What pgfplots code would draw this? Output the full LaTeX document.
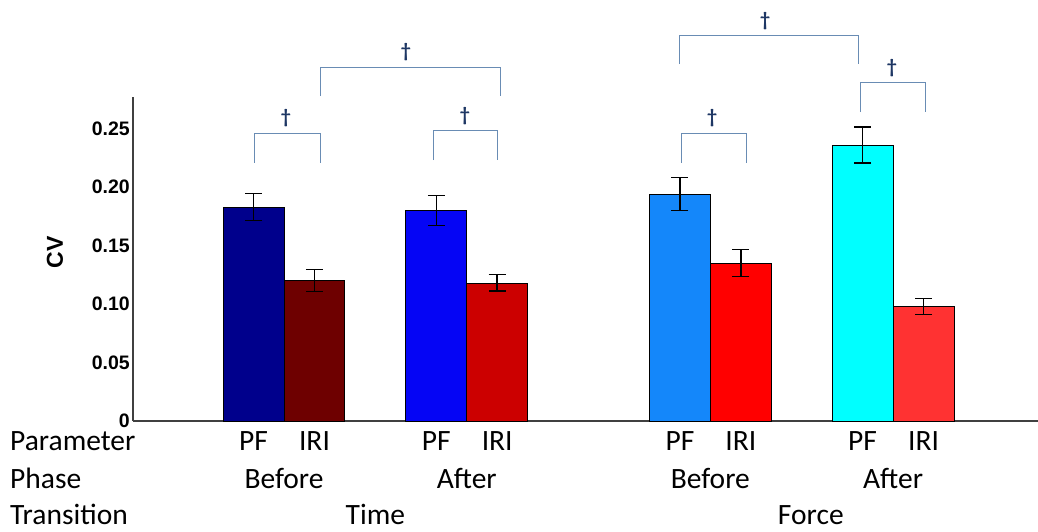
\documentclass[border=0pt]{standalone}
\usepackage{fontspec}
\setmainfont{Carlito}
\newfontfamily\arialfont{Liberation Sans}
\usepackage{pgfplots}
\pgfplotsset{compat=1.18}
\definecolor{c1}{RGB}{0,0,140}
\definecolor{c2}{RGB}{110,0,0}
\definecolor{c3}{RGB}{5,5,245}
\definecolor{c4}{RGB}{204,0,0}
\definecolor{c5}{RGB}{20,135,250}
\definecolor{c6}{RGB}{255,0,0}
\definecolor{c7}{RGB}{0,255,255}
\definecolor{c8}{RGB}{255,50,50}
\definecolor{brcol}{RGB}{105,140,180}
\definecolor{dagcol}{RGB}{30,55,100}
\newcommand\brk[4]{\draw[brcol, line width=1pt] (axis cs:#1,#4) |- (axis cs:#2,#3) -- (axis cs:#2,#4);}
\newcommand\sigdag[2]{\node[text=dagcol, font=\bfseries\fontsize{20}{20}\selectfont, inner sep=0pt] at (axis cs:#1,#2) {\textdagger};}
\newcommand\lab[3]{\node[anchor=base, font=\fontsize{29.5}{29.5}\selectfont, inner sep=0pt] at (axis cs:#1,#2) {#3};}
\begin{document}
\begin{tikzpicture}
\useasboundingbox (0,0) rectangle (1038pt,531pt);
\begin{axis}[
  at={(133pt,110pt)}, anchor=south west,
  scale only axis, width=905pt, height=324pt,
  xmin=-1.98, xmax=12.88, ymin=0, ymax=0.277,
  axis x line*=bottom, axis y line*=left,
  axis line style={-, draw=black!75, line width=1.3pt},
  xtick=\empty,
  ytick={0,0.05,0.1,0.15,0.2,0.25},
  yticklabels={0,0.05,0.10,0.15,0.20,0.25},
  major tick length=0pt,
  /pgf/number format/assume math mode=true,
  yticklabel style={font=\arialfont\bfseries\fontsize{19.5}{19.5}\selectfont, inner xsep=3pt},
  clip=false,
  mybar/.style={ybar, bar width=1, bar shift=0pt, draw=black, line width=0.9pt,
    error bars/y dir=both, error bars/y explicit,
    error bars/error bar style={line width=1.4pt, black},
    error bars/error mark options={rotate=90, mark size=8.5pt, line width=1.4pt, black}},
]
\addplot[mybar, fill=c1] coordinates {(0,0.183) +- (0,0.0115)};
\addplot[mybar, fill=c2] coordinates {(1,0.120) +- (0,0.0095)};
\addplot[mybar, fill=c3] coordinates {(3,0.180) +- (0,0.013)};
\addplot[mybar, fill=c4] coordinates {(4,0.118) +- (0,0.007)};
\addplot[mybar, fill=c5] coordinates {(7,0.194) +- (0,0.014)};
\addplot[mybar, fill=c6] coordinates {(8,0.135) +- (0,0.0115)};
\addplot[mybar, fill=c7] coordinates {(10,0.236) +- (0,0.0155)};
\addplot[mybar, fill=c8] coordinates {(11,0.098) +- (0,0.0068)};
% significance brackets
\brk{0.02}{1.1}{0.246}{0.221}
\brk{1.1}{4.05}{0.3026}{0.2778}
\brk{2.95}{4.0}{0.248}{0.223}
\brk{7.0}{9.94}{0.330}{0.305}
\brk{9.96}{11.03}{0.289}{0.264}
\brk{7.02}{8.09}{0.246}{0.221}
\sigdag{0.53}{0.259}
\sigdag{2.50}{0.315}
\sigdag{3.47}{0.261}
\sigdag{8.40}{0.342}
\sigdag{10.48}{0.302}
\sigdag{7.53}{0.259}
% y label
\node[rotate=90, font=\arialfont\bfseries\fontsize{23}{23}\selectfont] at (axis cs:-3.26,0.1444) {CV};
% category rows
\lab{0}{-0.0248}{PF}\lab{1}{-0.0248}{IRI}
\lab{3}{-0.0248}{PF}\lab{4}{-0.0248}{IRI}
\lab{7}{-0.0248}{PF}\lab{8}{-0.0248}{IRI}
\lab{10}{-0.0248}{PF}\lab{11}{-0.0248}{IRI}
\lab{0.5}{-0.0573}{Before}\lab{3.5}{-0.0573}{After}
\lab{7.5}{-0.0573}{Before}\lab{10.5}{-0.0573}{After}
\lab{2.0}{-0.0885}{Time}\lab{9.15}{-0.0885}{Force}
\node[anchor=base west, font=\fontsize{29.5}{29.5}\selectfont, inner sep=0pt] at (axis cs:-4.0,-0.0248) {Parameter};
\node[anchor=base west, font=\fontsize{29.5}{29.5}\selectfont, inner sep=0pt] at (axis cs:-4.0,-0.0573) {Phase};
\node[anchor=base west, font=\fontsize{29.5}{29.5}\selectfont, inner sep=0pt] at (axis cs:-4.0,-0.0885) {Transition};
\end{axis}
\end{tikzpicture}
\end{document}
